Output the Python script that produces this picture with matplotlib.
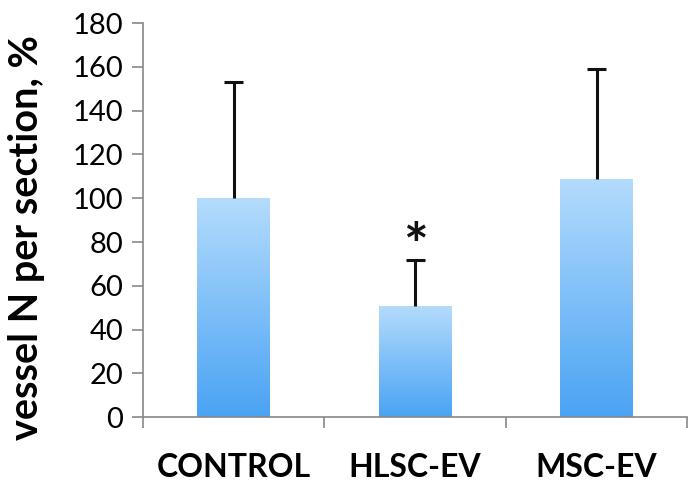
import numpy as np
import matplotlib.pyplot as plt
from matplotlib.colors import LinearSegmentedColormap

# Data
groups = ['CONTROL', 'HLSC-EV', 'MSC-EV']
means = [100, 51, 109]
err_up = [53, 21, 50]
sig = ['', '*', '']

plt.rcParams['font.family'] = ['Lato', 'DejaVu Sans']

fig = plt.figure(figsize=(6.97, 4.92), dpi=100)
ax = fig.add_axes([0.205, 0.152, 0.781, 0.801])

x = np.arange(len(groups))
width = 0.4
grad = LinearSegmentedColormap.from_list('bar', ['#4aa3f4', '#b4dcfc'])
bars = ax.bar(x, means, width, color='none', edgecolor='none', zorder=2)
img = np.linspace(0, 1, 256).reshape(-1, 1)
for b in bars:
    x0, y0 = b.get_x(), b.get_y()
    im = ax.imshow(img, cmap=grad, aspect='auto', origin='lower',
                   extent=[x0, x0 + b.get_width(), y0, y0 + b.get_height()], zorder=2)
    im.set_clip_path(b)

# upper-only error bars
tops = np.array(means) + np.array(err_up)
cap = 0.105
ax.vlines(x, means, tops, color='#111111', lw=2.2, zorder=3)
ax.hlines(tops, x - cap / 2, x + cap / 2, color='#111111', lw=2.2, zorder=3)
for xi, t, s in zip(x, tops, sig):
    if s:
        ax.text(xi, t + 5, s, ha='center', va='center', fontsize=42,
                fontweight='bold', color='#111111')

ax.set_xlim(-0.5, len(groups) - 0.5)
ax.set_ylim(0, 180)
ax.set_yticks(range(0, 181, 20))
ax.set_xticks(x)
ax.set_xticklabels(groups, fontsize=23, fontweight='bold')
ax.set_xticks(np.arange(-0.5, len(groups), 1), minor=True)
ax.tick_params(axis='x', which='major', length=0, pad=26)
ax.tick_params(axis='x', which='minor', length=8, width=1.2, color='#888888')
ax.tick_params(axis='y', length=8, width=1.2, color='#888888', labelsize=21, pad=6)

for side in ['top', 'right']:
    ax.spines[side].set_visible(False)
for side in ['left', 'bottom']:
    ax.spines[side].set_color('#888888')
    ax.spines[side].set_linewidth(1.2)

ax.set_ylabel('vessel N per section, %', fontsize=28.5, fontweight='bold')
ax.yaxis.set_label_coords(-0.18, 0.455)

fig.savefig('out.png', dpi=100)
